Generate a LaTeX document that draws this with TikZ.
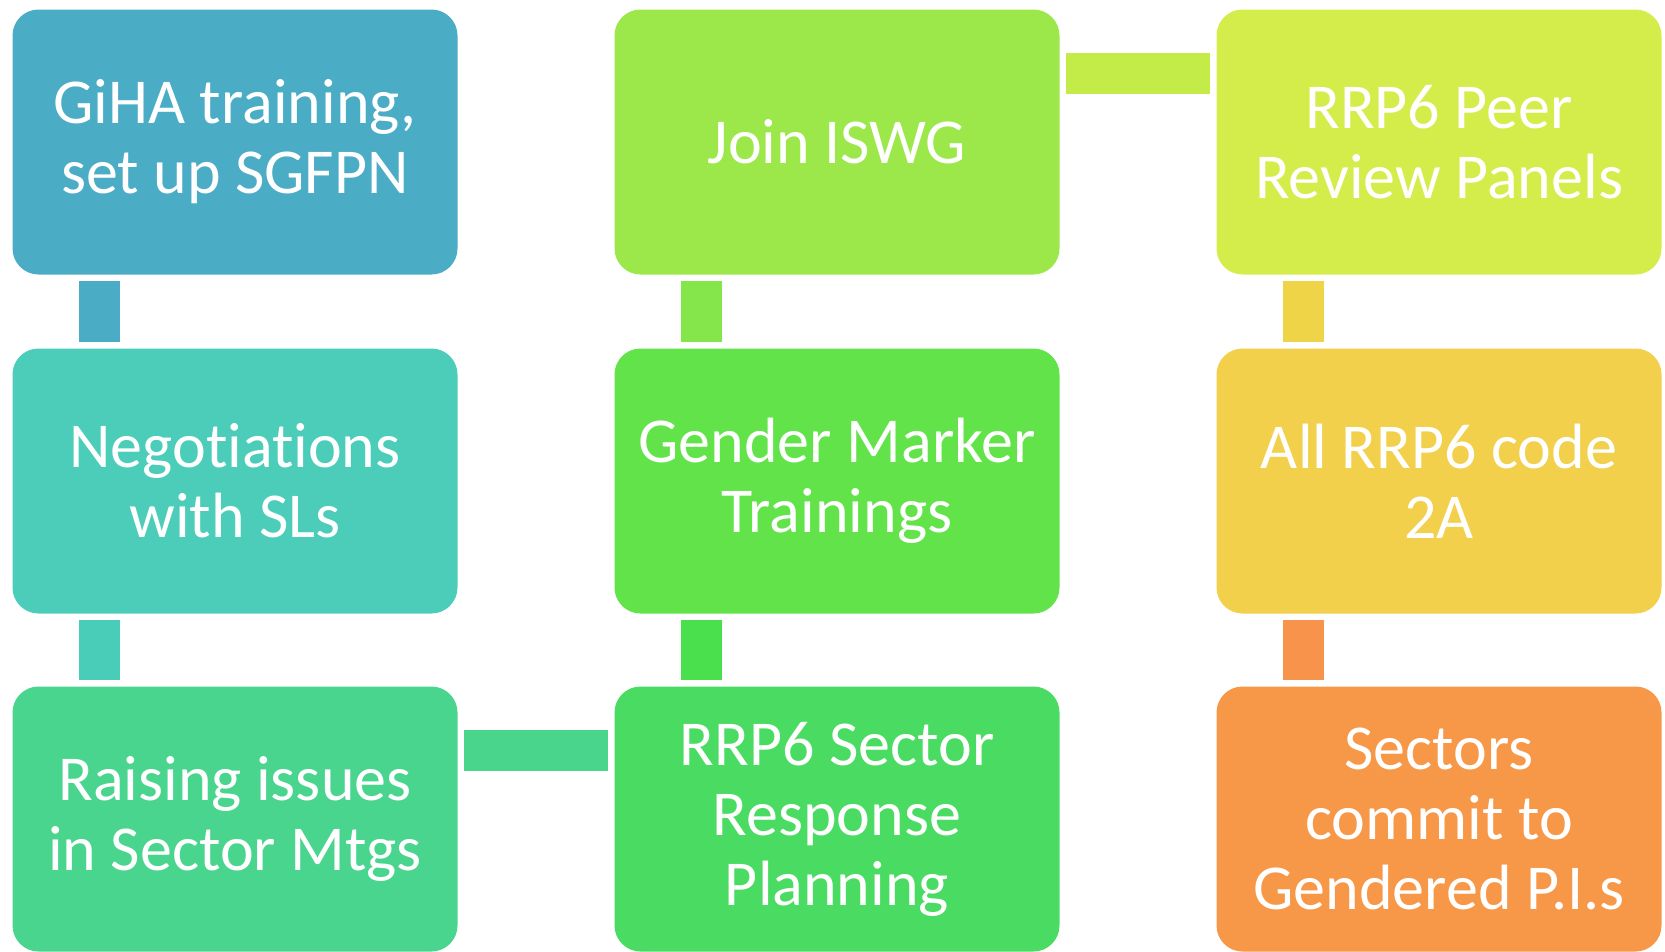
\documentclass[tikz,border=0pt]{standalone}
\usepackage{fontspec}
\setmainfont{Carlito}[Ligatures=NoCommon]
\definecolor{cA}{HTML}{4BACC6}
\definecolor{cB}{HTML}{4BCDBA}
\definecolor{cC}{HTML}{4AD58F}
\definecolor{cD}{HTML}{4ADB62}
\definecolor{cE}{HTML}{62E34A}
\definecolor{cF}{HTML}{9CE84A}
\definecolor{cG}{HTML}{D5ED4B}
\definecolor{cH}{HTML}{F2D04B}
\definecolor{cI}{HTML}{F79848}
\definecolor{kAB}{HTML}{4BACC6}
\definecolor{kBC}{HTML}{4ACDB8}
\definecolor{kCD}{HTML}{4AD58C}
\definecolor{kDE}{HTML}{4ADF4C}
\definecolor{kEF}{HTML}{84E64A}
\definecolor{kFG}{HTML}{C3EC48}
\definecolor{kGH}{HTML}{F0D448}
\definecolor{kHI}{HTML}{F7934A}
\tikzset{
  stepbox/.style={rectangle, rounded corners=26pt, minimum width=445pt, minimum height=265pt,
    inner sep=0pt, text=white, align=center,
    font=\fontsize{64pt}{70pt}\selectfont},
  linkbar/.style={line width=41pt, line cap=butt, shorten >=6.5pt, shorten <=6.5pt}
}
\begin{document}
\begin{tikzpicture}[x=1pt,y=-1pt]
\useasboundingbox (0,0) rectangle (1665,951);
% boxes
\node[stepbox, fill=cA] (a) at (235,142) {GiHA training,\\set up SGFPN};
\node[stepbox, fill=cB] (b) at (235,481) {Negotiations\\with SLs};
\node[stepbox, fill=cC] (c) at (235,819) {Raising issues\\in Sector Mtgs};
\node[stepbox, fill=cD] (d) at (837,819) {RRP6 Sector\\Response\\Planning};
\node[stepbox, fill=cE] (e) at (837,481) {Gender Marker\\Trainings};
\node[stepbox, fill=cF] (f) at (837,142) {Join ISWG};
\node[stepbox, fill=cG] (g) at (1439,142) {RRP6 Peer\\Review Panels};
\node[stepbox, fill=cH] (h) at (1439,481) {All RRP6 code\\2A};
\node[stepbox, fill=cI] (i) at (1439,819) {Sectors\\commit to\\Gendered P.I.s};
% connectors
\draw[linkbar, kAB] ([xshift=87pt]a.south west) -- ([xshift=87pt]b.north west);
\draw[linkbar, kBC] ([xshift=87pt]b.south west) -- ([xshift=87pt]c.north west);
\draw[linkbar, kCD] ([yshift=-64pt]c.north east) -- ([yshift=-64pt]d.north west);
\draw[linkbar, kDE] ([xshift=87pt]d.north west) -- ([xshift=87pt]e.south west);
\draw[linkbar, kEF] ([xshift=87pt]e.north west) -- ([xshift=87pt]f.south west);
\draw[linkbar, kFG] ([yshift=-64pt]f.north east) -- ([yshift=-64pt]g.north west);
\draw[linkbar, kGH] ([xshift=87pt]g.south west) -- ([xshift=87pt]h.north west);
\draw[linkbar, kHI] ([xshift=87pt]h.south west) -- ([xshift=87pt]i.north west);
\end{tikzpicture}
\end{document}
